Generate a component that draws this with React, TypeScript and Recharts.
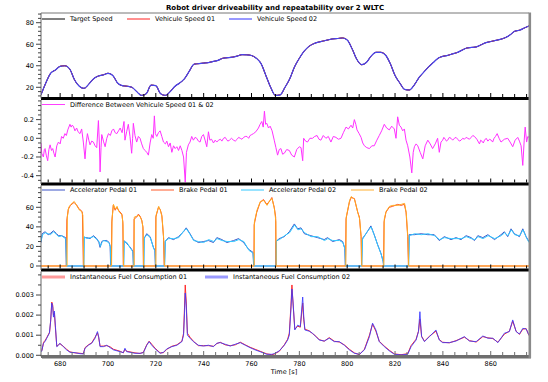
import React from "react";
import { LineChart, Line, XAxis, YAxis } from "recharts";

const FONT = "'DejaVu Sans', Verdana, sans-serif";

// shared time axis
const timeDomain: [number, number] = [672, 876];
const timeLabels = [680, 700, 720, 740, 760, 780, 800, 820, 840, 860];

// speed panel, sampled every 2 s from 672 s
const speedStart = 672;
const targetSpeed = [
  13, 24, 33, 36, 39.5, 40, 37, 27, 21, 19, 23, 28, 30.5, 31.5, 33, 31, 24, 21.5, 21, 20,
  16, 12.5, 14, 22, 21.5, 14, 12.5, 16, 21, 24, 28, 35, 41.5, 42, 42.5, 43, 44, 45, 47, 47.5,
  48, 49, 50.3, 50.2, 49.5, 47, 42, 31, 20, 12.5, 13, 20, 28, 39, 47, 53.5, 58, 60.5, 62, 63,
  64, 65, 65.3, 65.8, 64, 56, 46, 41, 43, 49, 52.5, 52.5, 50, 42, 31, 24, 18, 17.5, 22, 29,
  34, 39, 43, 47, 48.8, 49.6, 51, 52.3, 54.5, 56.5, 57, 57.5, 59.5, 61.5, 62.5, 63.5, 64.5, 66, 68.5, 72,
  73, 75, 77,
];
// both vehicle runs lie on the target trace at this scale
const vehicleSpeed01 = targetSpeed;
const vehicleSpeed02 = targetSpeed;

// [time, km/h]
const speedDiff = [
  [672.0, -0.05], [672.3, -0.16], [673.0, -0.2], [673.4, -0.12], [673.7, -0.11], [674.2, -0.18], [674.8, -0.24],
  [675.3, -0.12], [675.8, -0.07], [676.4, -0.13], [676.9, -0.11], [677.4, -0.16], [677.9, -0.2], [678.6, -0.08],
  [679.3, -0.04], [680.0, -0.06], [680.6, 0.02], [681.3, 0.0], [682.0, 0.05], [682.6, 0.03], [683.2, 0.09],
  [684.1, 0.15], [684.6, 0.12], [685.0, 0.14], [685.5, 0.13], [686.2, 0.08], [686.9, 0.11], [687.5, 0.07],
  [688.3, 0.05], [689.0, 0.1], [689.7, -0.04], [690.4, -0.22], [690.9, -0.05], [691.4, 0.05], [692.0, -0.02],
  [692.5, -0.07], [693.2, -0.03], [693.9, -0.04], [694.6, -0.08], [695.3, -0.1], [696.0, 0.19], [696.4, -0.05],
  [696.7, -0.36], [697.1, -0.1], [697.4, 0.04], [698.1, -0.03], [698.8, -0.09], [699.5, 0.0], [700.2, 0.05],
  [701.0, 0.03], [701.6, 0.08], [702.3, 0.1], [703.0, 0.06], [703.7, 0.05], [704.4, 0.08], [705.1, 0.11],
  [705.9, 0.06], [706.7, 0.18], [707.1, -0.02], [707.8, 0.07], [708.5, 0.15], [709.2, 0.02], [709.9, -0.16],
  [710.3, 0.0], [710.6, 0.16], [711.3, 0.03], [712.0, -0.04], [712.7, 0.02], [713.4, 0.0], [714.1, -0.06],
  [714.8, -0.11], [715.5, -0.13], [716.2, -0.15], [716.9, -0.18], [717.6, -0.05], [718.3, 0.04], [718.9, 0.0],
  [719.4, 0.24], [719.8, 0.05], [720.4, 0.02], [721.1, 0.06], [721.8, 0.08], [722.5, 0.02], [723.2, -0.04],
  [724.0, -0.06], [724.6, -0.03], [725.3, -0.09], [726.0, -0.05], [726.7, -0.15], [727.4, -0.08], [728.1, -0.11],
  [728.8, -0.09], [729.5, -0.13], [730.2, -0.08], [730.9, -0.13], [731.6, -0.2], [732.3, -0.47], [732.8, -0.15],
  [733.6, -0.07], [734.3, -0.04], [735.0, 0.02], [735.7, -0.02], [736.4, 0.01], [737.1, 0.0], [737.8, -0.03],
  [738.5, -0.04], [739.2, 0.02], [739.9, 0.04], [740.6, -0.02], [741.3, -0.09], [742.0, 0.07], [742.6, -0.02],
  [743.3, -0.01], [744.1, -0.05], [744.8, -0.02], [745.5, -0.04], [746.2, -0.02], [747.0, -0.01], [747.6, -0.03],
  [748.3, 0.0], [749.0, 0.01], [749.5, -0.01], [750.1, -0.03], [750.8, -0.02], [751.6, 0.0], [752.5, -0.02],
  [753.2, -0.03], [754.0, -0.01], [754.6, 0.01], [755.3, 0.0], [756.0, -0.01], [756.7, 0.01], [757.4, 0.02],
  [758.1, 0.02], [758.8, 0.0], [759.4, 0.03], [760.1, 0.04], [760.8, 0.05], [761.8, 0.07], [762.9, 0.11],
  [763.6, 0.15], [764.3, 0.18], [764.9, 0.12], [765.4, 0.29], [765.9, 0.15], [766.4, 0.16], [767.1, 0.11],
  [767.8, 0.13], [768.6, 0.08], [769.5, -0.02], [770.2, -0.1], [770.9, -0.18], [771.6, -0.12], [772.3, -0.11],
  [773.0, -0.17], [773.7, -0.16], [774.7, -0.12], [775.8, -0.13], [776.8, -0.18], [777.9, -0.2], [778.9, -0.12],
  [780.0, -0.09], [780.7, -0.1], [781.4, -0.24], [781.8, 0.0], [782.6, -0.03], [783.4, -0.04], [784.4, 0.0],
  [785.5, 0.0], [786.4, 0.02], [787.4, 0.03], [788.2, -0.01], [789.0, -0.02], [790.0, 0.03], [791.1, 0.0],
  [792.1, 0.02], [793.2, -0.04], [794.2, 0.02], [795.3, 0.01], [796.3, -0.01], [797.4, 0.0], [798.4, 0.06],
  [799.5, 0.12], [800.5, 0.1], [801.6, 0.14], [802.3, 0.11], [803.0, 0.2], [803.6, 0.15], [804.1, 0.09],
  [805.0, 0.05], [805.8, 0.01], [806.5, -0.05], [807.2, -0.08], [808.2, -0.1], [809.3, -0.11], [810.3, -0.08],
  [811.3, -0.08], [812.4, -0.02], [813.4, 0.03], [814.4, 0.08], [815.5, 0.15], [816.5, 0.11], [817.6, 0.09],
  [818.6, 0.13], [819.7, 0.1], [820.4, 0.0], [821.1, 0.23], [821.8, 0.14], [822.5, 0.12], [823.2, 0.08],
  [823.9, 0.1], [824.6, -0.02], [825.3, -0.08], [826.2, -0.2], [827.0, -0.37], [827.6, -0.15], [828.1, -0.09],
  [828.8, -0.06], [829.5, -0.08], [830.5, -0.15], [831.6, -0.22], [832.6, -0.08], [833.7, -0.02], [834.7, -0.06],
  [835.7, -0.11], [836.8, -0.06], [837.8, 0.0], [838.5, -0.15], [839.2, -0.04], [839.9, -0.02], [840.4, 0.01],
  [841.0, -0.01], [841.5, -0.03], [842.0, -0.02], [842.7, 0.01], [843.4, 0.0], [844.1, -0.02], [844.8, 0.0],
  [845.5, 0.01], [846.2, -0.01], [846.9, -0.03], [847.6, -0.02], [848.3, 0.0], [849.0, -0.01], [849.7, 0.01],
  [850.4, 0.0], [851.1, -0.01], [851.8, 0.01], [852.5, 0.03], [853.2, 0.02], [854.2, -0.01], [855.3, -0.06],
  [855.8, -0.02], [856.3, -0.03], [856.9, -0.05], [857.4, -0.02], [858.1, 0.0], [858.8, -0.03], [859.5, -0.01],
  [860.2, -0.02], [860.8, -0.04], [861.4, 0.0], [862.0, 0.02], [862.7, 0.05], [863.5, 0.0], [864.3, -0.04],
  [865.7, -0.01], [867.1, 0.0], [868.1, -0.04], [869.2, -0.09], [870.2, -0.02], [871.3, 0.01], [872.0, -0.03],
  [872.7, -0.08], [873.4, -0.29], [874.0, -0.02], [874.4, 0.12], [875.0, -0.04], [875.5, 0.02], [876.0, 0.01],
];

// pedals, [time, %]
const accelPedal01 = [
  [672, 24], [672.5, 33], [673.7, 35], [675, 32], [675.8, 33], [677.2, 36], [678.5, 33], [679.3, 31], [680.6, 31],
  [681.5, 30], [682.3, 29], [682.6, 0], [689.8, 0], [690.0, 29], [691.1, 29], [692.5, 28], [693.9, 31], [695.3, 28],
  [696.2, 24], [696.7, 19], [697.4, 25], [698.1, 26], [699.5, 26], [700.5, 24], [700.9, 20], [701.1, 0], [706.5, 0],
  [706.7, 26], [707.8, 23], [709, 20], [709.9, 17], [710.4, 15], [710.6, 0], [714.9, 0], [715.1, 28], [716.2, 33],
  [717.6, 30], [719.0, 19], [719.6, 16], [719.8, 0], [723.6, 0], [723.9, 25], [725.3, 29], [727.4, 27], [729.5, 30],
  [731.6, 35], [732.7, 39], [734.3, 33], [735.7, 27], [737.8, 24], [739.9, 25], [742.0, 26], [744.1, 24], [745.5, 29],
  [747.6, 27], [749.7, 24], [752.5, 26], [754.6, 28], [756.7, 24], [758.8, 17], [760.6, 14], [760.9, 0], [770.2, 0],
  [770.3, 25], [771.6, 28], [773.7, 30], [775.8, 35], [777.9, 43], [779.3, 38], [780.7, 39], [782.1, 33], [784.8, 31],
  [787.6, 29], [790.4, 27], [791.8, 29], [793.9, 25], [796.7, 27], [798.1, 25], [799.0, 18], [799.2, 0], [806.0, 0],
  [806.3, 28], [807.9, 33], [809.9, 41], [811.3, 32], [812.7, 22], [814.1, 13], [815.0, 5], [815.2, 0], [825.6, 0],
  [825.9, 32], [828.1, 32], [830.9, 33], [833.7, 32], [836.4, 32], [838.5, 26], [840.6, 30], [843.4, 27], [845.5, 29],
  [847.6, 27], [849.7, 31], [851.8, 29], [853.2, 26], [854.6, 31], [856.7, 29], [858.8, 32], [861.6, 27], [864.3, 32],
  [865.7, 35], [867.1, 30], [868.5, 38], [869.9, 33], [872.0, 30], [873.4, 38], [874.8, 30], [876, 25],
];
const brakePedal01 = [
  [672, 0], [682.6, 0], [682.8, 47], [683.4, 58], [684.3, 62], [685.8, 65], [687.0, 62], [688.0, 58], [688.7, 57],
  [689.3, 55], [689.7, 0], [701.4, 0], [701.6, 45], [702.2, 62], [703.0, 57], [703.7, 60], [704.4, 57], [705.8, 53],
  [706.2, 45], [706.4, 0], [710.8, 0], [710.9, 48], [712.0, 50], [712.7, 53], [713.4, 51], [714.1, 47], [714.6, 40],
  [714.8, 0], [719.9, 0], [720.0, 50], [721.1, 60], [721.8, 58], [722.5, 52], [723.2, 30], [723.5, 0], [761.0, 0],
  [761.1, 42], [762.2, 55], [763.6, 65], [765.0, 68], [766.4, 63], [767.8, 67], [768.5, 70], [769.5, 60], [770.1, 50],
  [770.2, 0], [799.3, 0], [799.5, 48], [800.9, 65], [801.6, 70], [803.0, 69], [804.4, 55], [805.1, 50], [805.8, 30],
  [806.0, 0], [815.2, 0], [815.4, 45], [816.2, 55], [817.6, 60], [819.0, 61], [821.1, 63], [822.5, 62], [823.9, 63],
  [824.6, 55], [825.3, 30], [825.6, 0], [876, 0],
];
const accelPedal02 = [
  [672, 25], [672.6, 32], [673.8, 34], [675, 33], [675.9, 32], [677.3, 35], [678.5, 32], [679.4, 30], [680.7, 31],
  [681.6, 29], [682.4, 28], [682.7, 0], [689.9, 0], [690.1, 30], [691.2, 28], [692.6, 29], [694.0, 30], [695.4, 27],
  [696.3, 25], [696.8, 20], [697.5, 24], [698.2, 26], [699.6, 25], [700.6, 23], [701.0, 19], [701.2, 0], [706.6, 0],
  [706.8, 25], [707.9, 24], [709.1, 19], [710.0, 16], [710.5, 14], [710.7, 0], [715.0, 0], [715.2, 29], [716.3, 32],
  [717.7, 29], [719.1, 18], [719.7, 15], [719.9, 0], [723.7, 0], [724.0, 26], [725.4, 28], [727.5, 28], [729.6, 29],
  [731.7, 36], [732.8, 38], [734.4, 32], [735.8, 26], [737.9, 25], [740.0, 24], [742.1, 27], [744.2, 25], [745.6, 28],
  [747.7, 26], [749.8, 25], [752.6, 25], [754.7, 27], [756.8, 25], [758.9, 16], [760.7, 13], [761.0, 0], [770.3, 0],
  [770.4, 26], [771.7, 27], [773.8, 31], [775.9, 34], [778.0, 42], [779.4, 37], [780.8, 38], [782.2, 34], [784.9, 30],
  [787.7, 30], [790.5, 26], [791.9, 28], [794.0, 26], [796.8, 26], [798.2, 24], [799.1, 17], [799.3, 0], [806.1, 0],
  [806.4, 27], [808.0, 34], [810.0, 40], [811.4, 31], [812.8, 21], [814.2, 12], [815.1, 4], [815.3, 0], [825.7, 0],
  [826.0, 31], [828.2, 33], [831.0, 32], [833.8, 33], [836.5, 31], [838.6, 27], [840.7, 29], [843.5, 28], [845.6, 28],
  [847.7, 28], [849.8, 30], [851.9, 28], [853.3, 27], [854.7, 30], [856.8, 28], [858.9, 31], [861.7, 28], [864.4, 31],
  [865.8, 34], [867.2, 31], [868.6, 37], [870.0, 32], [872.1, 31], [873.5, 37], [874.9, 29], [876, 24],
];
const brakePedal02 = [
  [672, 0], [682.9, 0], [683.0, 50], [683.6, 60], [684.5, 63], [685.9, 66], [687.1, 61], [688.1, 57], [688.9, 56],
  [689.5, 52], [689.9, 0], [701.5, 0], [701.7, 48], [702.3, 63], [703.1, 58], [703.8, 61], [704.5, 56], [705.9, 52],
  [706.3, 42], [706.5, 0], [710.9, 0], [711.0, 50], [712.1, 51], [712.8, 52], [713.5, 50], [714.2, 46], [714.7, 38],
  [714.9, 0], [720.0, 0], [720.1, 52], [721.2, 61], [721.9, 57], [722.6, 50], [723.3, 28], [723.6, 0], [761.1, 0],
  [761.2, 45], [762.3, 57], [763.7, 66], [765.1, 67], [766.5, 62], [767.9, 68], [768.6, 69], [769.6, 58], [770.2, 45],
  [770.3, 0], [799.4, 0], [799.6, 50], [801.0, 67], [801.7, 71], [803.1, 68], [804.5, 54], [805.2, 48], [805.9, 28],
  [806.1, 0], [815.3, 0], [815.5, 48], [816.3, 56], [817.7, 61], [819.1, 62], [821.2, 62], [822.6, 63], [824.0, 64],
  [824.7, 54], [825.4, 28], [825.7, 0], [876, 0],
];

// fuel, [time, value]
const fuel02 = [
  [672, 0.00018], [672.3, 0.0002], [673.0, 0.0006], [673.7, 0.00068], [674.4, 0.00085], [675.5, 0.0011],
  [676.0, 0.00167], [676.5, 0.0026], [676.9, 0.0024], [677.2, 0.0019], [677.6, 0.0022], [678.0, 0.0015],
  [678.6, 0.00043], [679.3, 0.0005], [679.9, 0.0006], [681.3, 0.00043], [682.7, 0.00027], [684.1, 0.00015],
  [686.2, 0.00013], [688.3, 0.00008], [689.7, 0.00007], [690.4, 0.00035], [691.8, 0.0005], [693.2, 0.0006],
  [694.6, 0.00085], [695.6, 0.00118], [696.1, 0.00093], [696.7, 0.00043], [698.1, 0.00043], [699.5, 0.0005],
  [700.9, 0.00038], [702.3, 0.00027], [705.1, 0.00018], [706.4, 0.00013], [707.1, 0.00035], [707.8, 0.00018],
  [709.2, 0.00015], [711.3, 0.0001], [713.4, 0.0001], [714.8, 0.00013], [716.2, 0.0005], [717.2, 0.00068],
  [718.3, 0.0005], [719.7, 0.00032], [721.8, 0.0001], [723.2, 0.00015], [724.6, 0.00032], [726.7, 0.00043],
  [728.8, 0.0005], [730.9, 0.00068], [731.6, 0.001], [732.0, 0.0021], [732.3, 0.0031], [732.7, 0.0025],
  [733.2, 0.001], [734.3, 0.00085], [735.7, 0.00068], [737.8, 0.0005], [739.9, 0.00046], [742.0, 0.0005],
  [744.1, 0.00043], [745.5, 0.0006], [746.9, 0.00063], [749.0, 0.00055], [751.1, 0.00046], [753.2, 0.00055],
  [755.3, 0.00063], [757.4, 0.0005], [759.4, 0.00038], [761.5, 0.00027], [763.6, 0.00018], [766.4, 0.00005],
  [768.5, 0.00005], [769.5, 0.00008], [771.6, 0.00022], [773.7, 0.0005], [775.1, 0.00076], [775.8, 0.001],
  [776.5, 0.0023], [776.9, 0.0033], [777.4, 0.0026], [778.1, 0.00126], [779.3, 0.0015], [780.4, 0.00143],
  [781.4, 0.0029], [781.8, 0.002], [782.3, 0.00126], [784.1, 0.0012], [785.5, 0.0011], [786.9, 0.00093],
  [788.3, 0.00076], [790.4, 0.00071], [792.5, 0.00085], [794.6, 0.00068], [796.7, 0.00068], [798.8, 0.0005],
  [800.9, 0.00027], [803.0, 0.0001], [805.1, 0.00005], [807.2, 0.00027], [809.3, 0.00093], [810.6, 0.0016],
  [812.0, 0.00126], [813.4, 0.00068], [815.5, 0.00043], [817.6, 0.00022], [819.7, 0.00005], [822.5, 0.00002],
  [825.3, 0.00005], [826.7, 0.00043], [828.8, 0.00076], [829.8, 0.00118], [830.4, 0.00217], [831.1, 0.00093],
  [832.3, 0.00068], [834.4, 0.00093], [837.1, 0.00126], [838.5, 0.00076], [839.9, 0.00063], [842.7, 0.00063],
  [845.5, 0.00071], [849.0, 0.00093], [851.1, 0.00071], [853.9, 0.00068], [856.7, 0.00096], [858.8, 0.00085],
  [860.9, 0.00085], [863.0, 0.00063], [865.7, 0.0011], [867.8, 0.00118], [869.2, 0.00176], [870.6, 0.00118],
  [872.0, 0.00106], [873.4, 0.00134], [874.8, 0.00131], [876.0, 0.001],
];
const fuel01 = [
  [672, 0.0002], [672.4, 0.00025], [673.1, 0.00065], [673.8, 0.00075], [674.5, 0.0009], [675.6, 0.00115],
  [676.1, 0.0018], [676.5, 0.00265], [676.9, 0.0025], [677.2, 0.002], [677.6, 0.0021], [678.0, 0.0014],
  [678.6, 0.00045], [679.3, 0.00052], [679.9, 0.00058], [681.3, 0.00045], [682.7, 0.0003], [684.1, 0.00017],
  [686.2, 0.00012], [688.3, 0.0001], [689.7, 0.00008], [690.4, 0.00038], [691.8, 0.00052], [693.2, 0.00062],
  [694.6, 0.0009], [695.6, 0.00112], [696.1, 0.0009], [696.7, 0.00045], [698.1, 0.00046], [699.5, 0.00048],
  [700.9, 0.00042], [702.3, 0.0003], [705.1, 0.0002], [706.4, 0.00012], [707.1, 0.0003], [707.8, 0.0002],
  [709.2, 0.00017], [711.3, 0.00012], [713.4, 0.00009], [714.8, 0.00015], [716.2, 0.00052], [717.2, 0.0007],
  [718.3, 0.00055], [719.7, 0.00035], [721.8, 0.00012], [723.2, 0.00013], [724.6, 0.0003], [726.7, 0.00045],
  [728.8, 0.00052], [730.9, 0.0007], [731.6, 0.0011], [732.0, 0.0024], [732.3, 0.0035], [732.7, 0.0027],
  [733.2, 0.0011], [734.3, 0.0009], [735.7, 0.0007], [737.8, 0.00048], [739.9, 0.00048], [742.0, 0.00048],
  [744.1, 0.00045], [745.5, 0.00058], [746.9, 0.00065], [749.0, 0.00052], [751.1, 0.00048], [753.2, 0.00052],
  [755.3, 0.00065], [757.4, 0.00052], [759.4, 0.0004], [761.5, 0.0003], [763.6, 0.0002], [766.4, 0.00007],
  [768.5, 0.00003], [769.5, 0.00006], [771.6, 0.0002], [773.7, 0.00052], [775.1, 0.0008], [775.8, 0.0011],
  [776.5, 0.0025], [776.9, 0.0035], [777.4, 0.0025], [778.1, 0.0013], [779.3, 0.00145], [780.4, 0.0014],
  [781.4, 0.0026], [781.8, 0.0018], [782.3, 0.0013], [784.1, 0.00122], [785.5, 0.00108], [786.9, 0.00095],
  [788.3, 0.00078], [790.4, 0.0007], [792.5, 0.00088], [794.6, 0.0007], [796.7, 0.00066], [798.8, 0.00052],
  [800.9, 0.0003], [803.0, 0.00012], [805.1, 0.00003], [807.2, 0.0003], [809.3, 0.001], [810.6, 0.00155],
  [812.0, 0.0012], [813.4, 0.0007], [815.5, 0.00046], [817.6, 0.00025], [819.7, 0.00007], [822.5, 0.00003],
  [825.3, 0.00008], [826.7, 0.00048], [828.8, 0.0008], [829.8, 0.0012], [830.4, 0.0018], [831.1, 0.00095],
  [832.3, 0.0007], [834.4, 0.00095], [837.1, 0.0012], [838.5, 0.00078], [839.9, 0.00065], [842.7, 0.00062],
  [845.5, 0.00073], [849.0, 0.0009], [851.1, 0.00073], [853.9, 0.00066], [856.7, 0.00093], [858.8, 0.00087],
  [860.9, 0.00083], [863.0, 0.00065], [865.7, 0.00105], [867.8, 0.0012], [869.2, 0.0017], [870.6, 0.0012],
  [872.0, 0.00104], [873.4, 0.0013], [874.8, 0.00133], [876.0, 0.00098],
];

type Pt = { t: number; v: number };
const fromPairs = (pairs: number[][]): Pt[] => pairs.map(([t, v]) => ({ t, v }));
const fromSeries = (start: number, step: number, vs: number[]): Pt[] =>
  vs.map((v, i) => ({ t: start + i * step, v }));
const steps = (a: number, b: number, s: number) => {
  const out: number[] = [];
  for (let i = 0; a + i * s <= b + 1e-9; i++) out.push(Math.round((a + i * s) * 100000) / 100000);
  return out;
};

const timeTicks = steps(675, 875, 5);

const makeXTick = (showLabels: boolean, color: string) => (props: any) => {
  const { x, y, payload } = props;
  const major = timeLabels.includes(payload.value);
  return (
    <g>
      <line x1={x} x2={x} y1={y - 1.5} y2={y - 1.5 - (major ? 4 : 3)} stroke={color} />
      {showLabels && major && (
        <text x={x} y={y + 9} textAnchor="middle" fontSize={6.5} fontFamily={FONT} fill="#000">
          {payload.value}
        </text>
      )}
    </g>
  );
};

const makeYTick = (labels: number[], fmt: (v: number) => string) => (props: any) => {
  const { x, y, payload } = props;
  const major = labels.some((l) => Math.abs(l - payload.value) < 1e-9);
  return (
    <g>
      <line x1={x - (major ? 5 : 3)} x2={x} y1={y} y2={y} stroke="#444" />
      {major && (
        <text x={x - 7} y={y} dy="0.35em" textAnchor="end" fontSize={6.5} fontFamily={FONT} fill="#000">
          {fmt(payload.value)}
        </text>
      )}
    </g>
  );
};

interface PanelProps {
  top: number;
  height: number;
  plotTop: number;
  plotBottom: number;
  yDomain: [number, number];
  yTicks: number[];
  yLabels: number[];
  fmt: (v: number) => string;
  axisColor: string;
  showTimeLabels: boolean;
  children: React.ReactNode;
}

function Panel(p: PanelProps) {
  return (
    <div style={{ position: "absolute", left: 0, top: p.top }}>
      <LineChart
        width={548}
        height={p.height}
        margin={{ top: p.plotTop - p.top, right: 19, bottom: 0, left: 0 }}
      >
        <XAxis
          dataKey="t"
          type="number"
          domain={timeDomain}
          allowDataOverflow
          ticks={timeTicks}
          interval={0}
          height={p.top + p.height - p.plotBottom}
          tickSize={0}
          tickMargin={0}
          axisLine={{ stroke: p.axisColor, strokeWidth: 3 }}
          tick={makeXTick(p.showTimeLabels, p.axisColor)}
        />
        <YAxis
          type="number"
          domain={p.yDomain}
          allowDataOverflow
          ticks={p.yTicks}
          interval={0}
          width={41}
          tickSize={0}
          tickMargin={0}
          axisLine={{ stroke: "#666" }}
          tick={makeYTick(p.yLabels, p.fmt)}
        />
        {p.children}
      </LineChart>
    </div>
  );
}

const legends = [
  { y: 19, items: [
    { x: 42, color: "#000", w: 1, label: "Target Speed" },
    { x: 127, color: "#ff2020", w: 1, label: "Vehicule Speed 01" },
    { x: 229, color: "#3333ff", w: 1, label: "Vehicule Speed 02" },
  ] },
  { y: 104.5, items: [
    { x: 42, color: "#ff40ff", w: 1, label: "Difference Between Vehicule Speed 01 & 02" },
  ] },
  { y: 190, items: [
    { x: 42, color: "#3d55c8", w: 1, label: "Accelerator Pedal 01" },
    { x: 151, color: "#ff5a2a", w: 1, label: "Brake Pedal 01" },
    { x: 241, color: "#33c8ff", w: 1, label: "Accelerator Pedal 02" },
    { x: 351, color: "#ffb030", w: 1, label: "Brake Pedal 02" },
  ] },
  { y: 277, items: [
    { x: 42, color: "#ff9a9a", w: 3, label: "Instantaneous Fuel Consumption 01" },
    { x: 205, color: "#9a9aff", w: 3, label: "Instantaneous Fuel Consumption 02" },
  ] },
];

export default function App() {
  const speedTarget = fromSeries(speedStart, 2, targetSpeed);
  const speed01 = fromSeries(speedStart, 2, vehicleSpeed01);
  const speed02 = fromSeries(speedStart, 2, vehicleSpeed02);
  const lineProps = { dataKey: "v", dot: false, isAnimationActive: false, strokeWidth: 1 } as const;

  return (
    <div style={{ position: "absolute", left: 0, top: 0, width: 548, height: 382, background: "#fff" }}>
      <Panel top={0} height={110} plotTop={13} plotBottom={98.5} yDomain={[9.6, 89]}
        yTicks={steps(12, 88, 4)} yLabels={[20, 40, 60, 80]} fmt={(v) => String(v)}
        axisColor="#000" showTimeLabels={false}>
        <Line data={speedTarget} {...lineProps} type="monotone" stroke="#000" />
        <Line data={speed01} {...lineProps} type="monotone" stroke="#ff2020" />
        <Line data={speed02} {...lineProps} type="monotone" stroke="#4545ee" strokeWidth={1.2} />
      </Panel>
      <Panel top={95} height={100} plotTop={100} plotBottom={184} yDomain={[-0.489, 0.41]}
        yTicks={steps(-0.45, 0.4, 0.05)} yLabels={[-0.4, -0.2, 0, 0.2]} fmt={(v) => v.toFixed(1)}
        axisColor="#000" showTimeLabels={false}>
        <Line data={fromPairs(speedDiff)} {...lineProps} type="linear" stroke="#ff30ff" />
      </Panel>
      <Panel top={180} height={100} plotTop={185.5} plotBottom={270} yDomain={[-4.1, 82.3]}
        yTicks={steps(0, 80, 5)} yLabels={[0, 20, 40, 60]} fmt={(v) => String(v)}
        axisColor="#000" showTimeLabels={false}>
        <Line data={fromPairs(accelPedal01)} {...lineProps} type="linear" stroke="#3d55c8" />
        <Line data={fromPairs(brakePedal01)} {...lineProps} type="linear" stroke="#ff4a20" />
        <Line data={fromPairs(accelPedal02)} {...lineProps} type="linear" stroke="#33c8ff" />
        <Line data={fromPairs(brakePedal02)} {...lineProps} type="linear" stroke="#ffaa22" />
      </Panel>
      <Panel top={265} height={117} plotTop={271.5} plotBottom={356.5} yDomain={[-0.00006, 0.00417]}
        yTicks={steps(0, 0.004, 0.0005)} yLabels={[0, 0.001, 0.002, 0.003]} fmt={(v) => v.toFixed(3)}
        axisColor="#6e6e6e" showTimeLabels={true}>
        <Line data={fromPairs(fuel01)} {...lineProps} type="linear" stroke="#ff2a2a" />
        <Line data={fromPairs(fuel02)} {...lineProps} type="linear" stroke="#3a3aff" strokeOpacity={0.85} />
      </Panel>

      <svg width={548} height={382} style={{ position: "absolute", left: 0, top: 0, pointerEvents: "none" }}>
        <text x={275} y={10} textAnchor="middle" fontSize={7} fontWeight="bold" fontFamily={FONT} fill="#000">
          Robot driver driveability and repeatability over 2 WLTC
        </text>
        <line x1={41} x2={529} y1={13} y2={13} stroke="#777" />
        <line x1={529.8} x2={529.8} y1={12.5} y2={358} stroke="#8a8a8a" strokeWidth={2.6} />
        <line x1={42} x2={531} y1={358.5} y2={358.5} stroke="#b5b5b5" strokeWidth={1} />
        {legends.map((row, r) => (
          <g key={r}>
            {row.items.map((it, i) => (
              <g key={i}>
                <line x1={it.x} x2={it.x + 23} y1={row.y} y2={row.y} stroke={it.color} strokeWidth={it.w} />
                <text x={it.x + 28} y={row.y} dy="0.35em" fontSize={6.5} fontFamily={FONT} fill="#000">
                  {it.label}
                </text>
              </g>
            ))}
          </g>
        ))}
        <text x={284} y={374} textAnchor="middle" fontSize={6.5} fontFamily={FONT} fill="#000">
          Time [s]
        </text>
      </svg>
    </div>
  );
}
